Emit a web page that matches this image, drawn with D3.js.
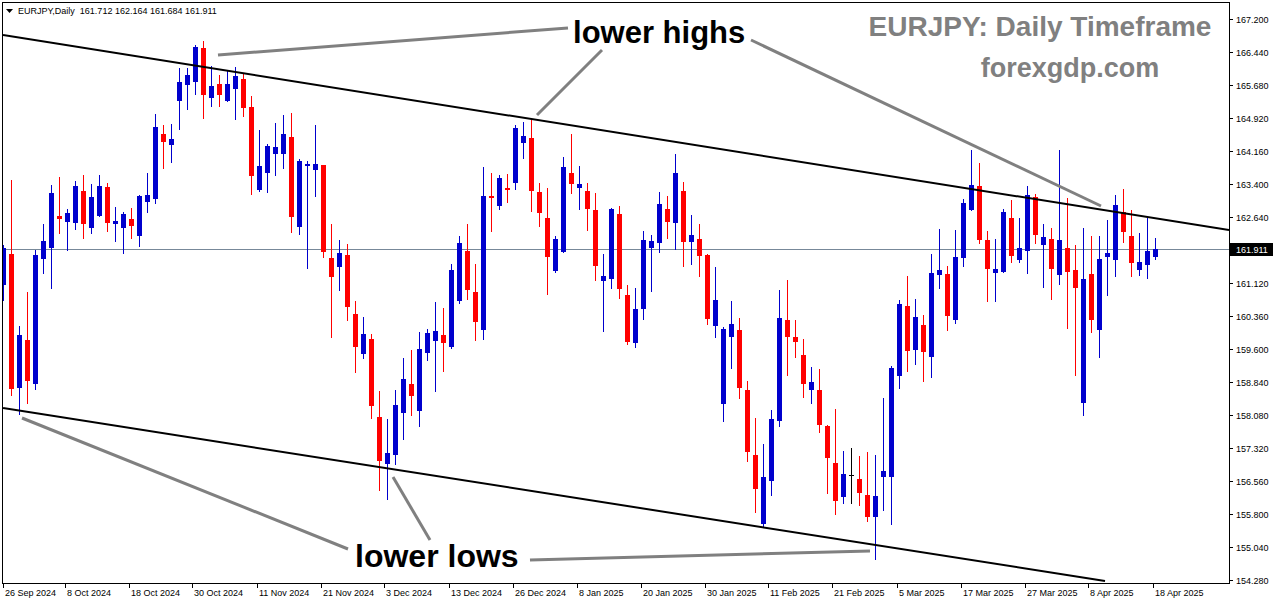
<!DOCTYPE html>
<html><head><meta charset="utf-8">
<script src="https://cdn.jsdelivr.net/npm/d3@7"></script>
<style>html,body{margin:0;padding:0;background:#fff;overflow:hidden}</style>
</head><body>
<svg id="c" width="1276" height="604" xmlns="http://www.w3.org/2000/svg"></svg>
<script>
const symbolName = "EURJPY";
const timeframe = "Daily";
const titleText = "EURJPY: Daily Timeframe";
const siteText = "forexgdp.com";
const noteHighs = "lower highs";
const noteLows = "lower lows";

const opens = [161.074,161.788,158.702,159.808,158.795,161.673,161.927,162.664,162.525,162.502,163.239,162.387,162.664,163.331,162.479,162.387,162.594,162.203,162.986,163.055,
164.552,164.299,165.312,165.680,165.750,166.533,165.381,165.704,165.312,165.588,165.819,165.174,163.262,163.654,164.091,164.091,164.483,162.410,163.815,163.723,
163.838,161.696,161.489,161.765,160.407,159.485,159.831,158.035,156.952,157.159,158.127,158.795,158.173,159.508,159.785,159.923,159.647,160.706,161.858,160.913,
160.038,163.124,162.894,163.308,163.424,164.345,164.460,163.216,162.618,161.397,161.834,163.654,163.308,163.239,162.802,161.167,161.213,162.710,160.844,159.739,
160.522,161.927,162.042,162.825,162.502,163.239,162.065,162.134,161.765,160.130,158.334,159.877,160.038,158.656,157.159,155.570,156.561,157.942,160.268,159.877,
159.462,158.656,158.656,157.827,156.975,156.192,156.699,156.607,156.238,155.732,156.653,156.653,158.979,160.591,159.578,160.153,159.416,161.305,161.328,160.268,
161.696,162.802,163.354,162.111,161.351,161.374,162.618,161.650,161.858,163.101,161.996,162.134,161.305,161.927,161.420,158.357,161.328,160.038,161.719,161.650,
162.756,162.203,161.420,161.535,161.712];

const highs = [161.996,163.493,160.130,160.913,161.881,162.479,163.377,163.562,162.825,163.470,163.608,163.401,163.608,163.424,162.871,162.756,162.848,163.147,163.654,165.013,
164.759,164.782,166.072,166.072,166.602,166.694,166.118,165.911,166.003,166.095,165.957,165.427,164.644,164.322,164.805,164.990,165.036,163.976,163.930,164.759,
163.838,162.479,162.111,162.019,160.706,160.338,159.946,158.633,157.988,158.656,159.393,159.578,159.992,160.061,160.683,160.545,161.558,162.203,162.479,161.558,
163.792,163.654,163.608,163.631,164.759,164.828,164.874,163.424,163.308,162.203,164.022,164.552,163.815,163.424,163.193,161.788,162.848,162.894,161.074,161.005,
162.318,162.226,163.216,163.124,164.091,163.447,162.687,162.479,161.788,161.489,160.107,160.706,160.315,158.864,158.012,157.413,158.196,160.959,161.190,160.268,
159.831,159.186,159.140,157.850,158.219,157.252,157.321,157.136,157.228,157.159,158.472,159.209,160.729,161.282,160.752,160.384,161.788,162.364,161.512,162.341,
163.055,164.184,163.884,162.318,162.134,162.825,163.032,162.618,163.354,163.170,162.479,162.387,164.184,163.078,161.996,162.387,162.203,162.203,162.571,163.147,
163.285,162.802,162.272,162.618,162.164];

const lows = [160.729,158.541,158.104,158.357,158.679,161.351,161.005,162.272,161.881,162.364,162.157,162.272,162.664,162.318,162.088,161.811,162.157,161.973,162.756,162.963,
163.769,163.907,164.667,165.128,165.473,164.921,165.197,165.197,165.312,164.897,164.967,163.170,163.239,163.216,163.608,163.769,162.295,162.249,161.466,163.124,
161.719,159.877,160.959,160.268,159.071,159.393,158.012,156.353,156.146,156.952,157.528,158.081,157.827,159.347,158.633,159.094,159.624,160.660,160.752,159.808,
159.831,162.318,162.825,162.986,163.285,163.999,162.779,162.433,160.867,161.374,161.834,163.193,162.825,162.341,161.190,160.015,161.005,160.775,159.716,159.647,
160.291,160.936,161.834,162.157,161.904,161.512,161.558,161.282,160.176,159.877,157.942,159.163,158.472,157.021,155.847,155.524,156.238,157.827,159.002,159.416,
158.495,158.357,157.689,156.284,155.801,156.054,156.054,156.008,155.639,154.764,155.893,155.570,158.702,159.094,159.255,158.864,158.956,161.005,160.038,160.199,
161.512,162.802,162.042,160.706,160.706,161.374,161.604,161.604,161.351,162.042,161.028,160.752,161.098,160.084,159.002,158.081,159.992,159.416,160.844,161.282,
162.065,161.282,161.305,161.236,161.684];

const closes = [161.927,158.679,159.923,158.864,161.765,162.088,163.193,162.594,162.733,163.354,162.479,163.101,163.354,162.502,162.548,162.710,162.433,163.124,163.147,164.713,
164.368,164.437,165.750,165.911,166.556,165.450,165.657,165.450,165.704,165.888,165.151,163.585,163.815,164.276,164.253,164.552,162.641,163.930,163.861,163.861,
161.834,161.259,161.811,160.568,159.647,159.946,158.288,157.021,157.205,158.311,158.910,158.518,159.601,159.969,160.015,159.739,161.420,162.042,160.959,160.222,
163.124,163.078,163.539,163.262,164.690,164.506,163.239,162.733,161.719,162.134,163.792,163.401,163.401,162.825,161.512,161.282,162.825,160.982,159.762,160.522,
162.111,162.088,162.940,162.525,163.654,162.065,162.226,161.742,160.291,160.729,160.061,160.176,158.702,157.228,156.376,156.653,157.988,160.315,159.877,159.762,
158.795,158.841,157.850,157.090,156.100,156.722,156.699,156.284,155.732,156.215,156.791,159.163,160.637,159.555,160.338,159.531,161.351,161.420,160.361,161.719,
162.963,163.377,162.111,161.443,161.443,162.756,161.742,161.927,163.147,162.226,162.180,161.443,162.111,161.374,161.005,161.213,160.268,161.673,161.811,162.917,
162.295,161.581,161.604,161.858,161.911];

const dateLabels = ["26 Sep 2024","8 Oct 2024","18 Oct 2024","30 Oct 2024","11 Nov 2024","21 Nov 2024","3 Dec 2024","13 Dec 2024","26 Dec 2024","8 Jan 2025","20 Jan 2025","30 Jan 2025","11 Feb 2025","21 Feb 2025","5 Mar 2025","17 Mar 2025","27 Mar 2025","8 Apr 2025","18 Apr 2025"];
const dateLabelBars = [0,8,16,24,32,40,48,56,64,72,80,88,96,104,112,120,128,136,144];

const priceTicks = [154.28,155.04,155.80,156.56,157.32,158.08,158.84,159.60,160.36,161.12,161.88,162.64,163.40,164.16,164.92,165.68,166.44,167.20];

// trend lines: [bar index, price]
const upperTrend = [[-0.06,166.831],[153.19,162.341]];
const lowerTrend = [[-0.06,158.241],[137.69,154.257]];
// grey pointer lines: [bar index, price]
const pointerLines = [
  [[26.81,166.371],[70.56,166.993]],
  [[66.69,164.989],[74.81,166.486]],
  [[93.44,166.716],[137.19,162.893]],
  [[2.31,158.011],[43.06,154.994]],
  [[48.69,156.652],[53.31,155.201]],
  [[65.81,154.740],[108.31,154.948]]
];
// anchors for annotation text [bar index, price]
const noteHighsAnchor = [71.19,166.647];
const noteLowsAnchor = [43.94,154.579];

const L = 3, R = 1229, T = 3, B = 583;
const svg = d3.select("#c");
const x = d3.scaleLinear().domain([0,144]).range([3.5,1155.5]);
const y = d3.scaleLinear().domain([154.28,167.2]).range([580,19]);
const lastIdx = closes.length-1;

svg.append("rect").attr("x",0).attr("y",0).attr("width",1276).attr("height",604).attr("fill","#fff");
svg.append("defs").append("clipPath").attr("id","plot")
  .append("rect").attr("x",L).attr("y",T).attr("width",R-L).attr("height",B-T);
const plot = svg.append("g").attr("clip-path","url(#plot)");

// current price line
const yc = Math.round(y(closes[lastIdx]))+0.5;
plot.append("line").attr("x1",L).attr("x2",R).attr("y1",yc).attr("y2",yc)
  .attr("stroke","#778899").attr("stroke-width",1);

// candles
const bars = d3.range(closes.length).map(i=>({i,o:opens[i],h:highs[i],l:lows[i],c:closes[i]}));
const col = d => d.c>d.o ? "#0000CD" : (d.c<d.o ? "#FF0000" : "#000000");
const cg = plot.append("g");
cg.selectAll("rect.w").data(bars).join("rect").attr("class","w")
  .attr("x",d=>Math.floor(x(d.i))).attr("width",1)
  .attr("y",d=>Math.round(y(d.h))).attr("height",d=>Math.max(1,Math.round(y(d.l))-Math.round(y(d.h))+1))
  .attr("fill",col).attr("shape-rendering","crispEdges");
cg.selectAll("rect.b").data(bars).join("rect").attr("class","b")
  .attr("x",d=>x(d.i)-2.5).attr("width",5)
  .attr("y",d=>Math.round(y(Math.max(d.o,d.c))))
  .attr("height",d=>Math.max(1,Math.round(y(Math.min(d.o,d.c)))-Math.round(y(Math.max(d.o,d.c)))))
  .attr("fill",col).attr("shape-rendering","crispEdges");

// trend lines
const ln = d3.line().x(d=>x(d[0])).y(d=>y(d[1]));
[upperTrend,lowerTrend].forEach(t=>{
  plot.append("path").attr("d",ln(t)).attr("fill","none").attr("stroke","#000").attr("stroke-width",2);
});
pointerLines.forEach(t=>{
  plot.append("path").attr("d",ln(t)).attr("fill","none").attr("stroke","#808080").attr("stroke-width",3);
});

// annotation texts
plot.append("text").attr("x",x(noteHighsAnchor[0])).attr("y",y(noteHighsAnchor[1]))
  .attr("font-family","Liberation Sans, Arial, sans-serif").attr("font-weight","bold").attr("font-size",31)
  .attr("fill","#000").text(noteHighs);
plot.append("text").attr("x",x(noteLowsAnchor[0])).attr("y",y(noteLowsAnchor[1]))
  .attr("font-family","Liberation Sans, Arial, sans-serif").attr("font-weight","bold").attr("font-size",32)
  .attr("fill","#000").text(noteLows);
plot.append("text").attr("x",1040).attr("y",36).attr("text-anchor","middle")
  .attr("font-family","Liberation Sans, Arial, sans-serif").attr("font-weight","bold").attr("font-size",28)
  .attr("fill","#808080").text(titleText);
plot.append("text").attr("x",1070).attr("y",77).attr("text-anchor","middle")
  .attr("font-family","Liberation Sans, Arial, sans-serif").attr("font-weight","bold").attr("font-size",27)
  .attr("fill","#808080").text(siteText);

// frame
svg.append("rect").attr("x",L-0.5).attr("y",T-0.5).attr("width",R-L+1).attr("height",B-T+1)
  .attr("fill","none").attr("stroke","#000").attr("stroke-width",1).attr("shape-rendering","crispEdges");

const small = g => g.attr("font-family","Liberation Sans, Arial, sans-serif").attr("font-size",9).attr("fill","#000");

// right axis
const ya = svg.append("g");
priceTicks.forEach(p=>{
  const yy = Math.round(y(p))+0.5;
  ya.append("line").attr("x1",R).attr("x2",R+4).attr("y1",yy).attr("y2",yy).attr("stroke","#000").attr("shape-rendering","crispEdges");
  small(ya.append("text")).attr("x",R+7).attr("y",yy).attr("dy","0.35em").text(d3.format(".3f")(p));
});
// current price box
svg.append("rect").attr("x",R+1).attr("y",yc-6.5).attr("width",43).attr("height",13).attr("fill","#000");
small(svg.append("text")).attr("x",R+7).attr("y",yc).attr("dy","0.35em").attr("fill","#fff").text(d3.format(".3f")(closes[lastIdx]));

// bottom axis
const xa = svg.append("g");
dateLabelBars.forEach((b,k)=>{
  const tx = Math.max(L, Math.round(x(b))-3)+0.5;
  xa.append("line").attr("x1",tx).attr("x2",tx).attr("y1",B).attr("y2",B+5).attr("stroke","#000").attr("shape-rendering","crispEdges");
  small(xa.append("text")).attr("x",tx+1.5).attr("y",596).text(dateLabels[k]);
});

// header
svg.append("path").attr("d","M6,9L13,9L9.5,13Z").attr("fill","#000");
const f3 = d3.format(".3f");
small(svg.append("text")).attr("x",18).attr("y",14).attr("xml:space","preserve")
  .text(symbolName+","+timeframe+"  "+[opens[lastIdx],highs[lastIdx],lows[lastIdx],closes[lastIdx]].map(f3).join(" "));
</script>
</body></html>
